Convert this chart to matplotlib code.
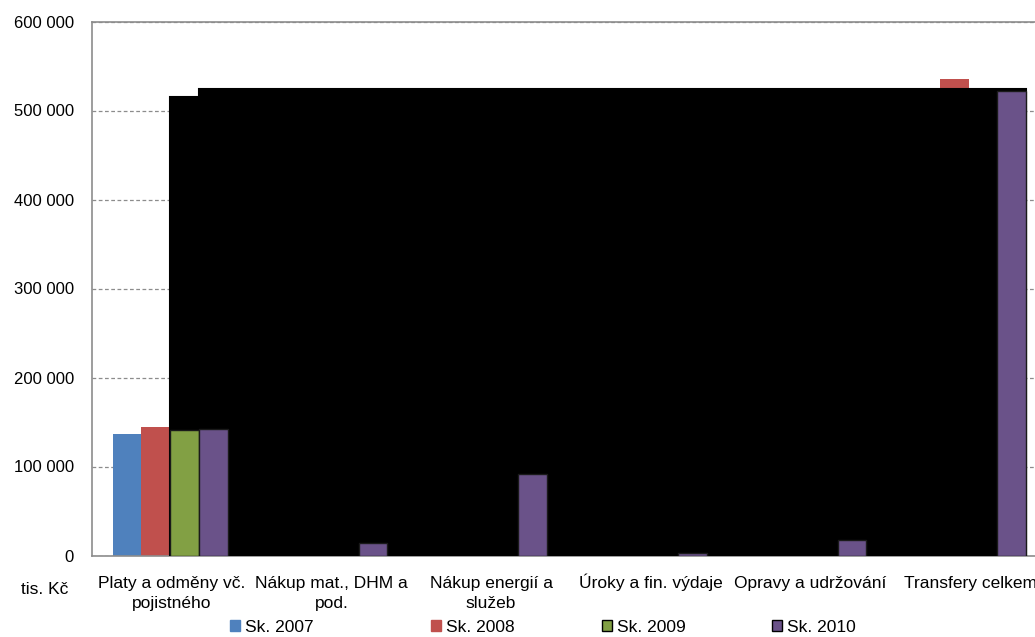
import numpy as np
import matplotlib
matplotlib.use("Agg")
import matplotlib.pyplot as plt
from matplotlib.patches import Polygon, Patch
from matplotlib.ticker import FuncFormatter

plt.rcParams['font.family'] = ['Liberation Sans', 'DejaVu Sans']

categories = [
    "Platy a odměny vč.\npojistného",
    "Nákup mat., DHM a\npod.",
    "Nákup energií a\nslužeb",
    "Úroky a fin. výdaje",
    "Opravy a udržování",
    "Transfery celkem",
]
series_names = ["Sk. 2007", "Sk. 2008", "Sk. 2009", "Sk. 2010"]
sk2007 = [137000, 15000, 88000, 3000, 20000, 470000]
sk2008 = [144400, 14500, 90000, 2800, 19000, 535600]
sk2009 = [141500, np.nan, np.nan, np.nan, np.nan, np.nan]
sk2010 = [142600, 13700, 92100, 2500, 17400, 521800]
shade_levels = [515000, 524000]
y_ticks = [0, 100000, 200000, 300000, 400000, 500000, 600000]

colors = ["#4F81BD", "#C0504D", "#82A044", "#6A5289"]
edges = ["none", "none", "#1a1a1a", "#1a1a1a"]
layers = [2, 2, 4, 4]

fig = plt.figure(figsize=(10.35, 6.37), dpi=100)
ax = fig.add_axes([92 / 1035, 1 - 555.5 / 637, 958 / 1035, 534 / 637])

x = np.arange(len(categories))
w = 0.18
shift = -0.01
offsets = np.array([-1.5, -0.5, 0.5, 1.5]) * w + shift
containers = []
for vals, off, c, ec, z, name in zip([sk2007, sk2008, sk2009, sk2010], offsets,
                                     colors, edges, layers, series_names):
    bc = ax.bar(x + off, vals, width=w, color=c, edgecolor=ec,
                linewidth=1.0 if ec != "none" else 0, zorder=z, label=name)
    containers.append(bc)

# dark block spanning the plot behind the later series
x_left = containers[2].patches[0].get_x()
x_step = containers[3].patches[0].get_x()
x_right = containers[3].patches[-1].get_x() + w
verts = [(x_left, 0), (x_left, shade_levels[0]), (x_step, shade_levels[0]),
         (x_step, shade_levels[1]), (x_right, shade_levels[1]), (x_right, 0)]
ax.add_patch(Polygon(verts, closed=True, facecolor="black", edgecolor="black",
                     linewidth=1.5, zorder=3))

ax.set_xlim(-0.5, len(categories) - 0.5)
ax.set_ylim(0, 600000)
ax.set_yticks(y_ticks)
ax.yaxis.set_major_formatter(FuncFormatter(lambda v, p: f"{int(v):,}".replace(",", " ")))
ax.set_xticks(x)
ax.set_xticklabels([])
ax.tick_params(axis="both", length=0, labelsize=12, colors="black")
ax.tick_params(axis="y", pad=13)

# category labels: first baseline sits at a fixed distance under the axis
first_baseline_pt = 23.4
line_step_pt = 14.4
for xi, label in zip(x, categories):
    n_lines = label.count("\n") + 1
    ax.annotate(label, xy=(xi, 0), xycoords=("data", "axes fraction"),
                xytext=(0, -(first_baseline_pt + line_step_pt * (n_lines - 1))),
                textcoords="offset points", ha="center", va="baseline",
                multialignment="center", fontsize=12.5, linespacing=1.45,
                annotation_clip=False)

ax.set_axisbelow(True)
ax.yaxis.grid(True, linestyle=(0, (3, 2)), color="#8c8c8c", linewidth=0.9)
for s in ["left", "top", "bottom"]:
    ax.spines[s].set_color("#8c8c8c")
    ax.spines[s].set_linewidth(1.2)
ax.spines["right"].set_visible(False)

fig.text(45 / 1035, 1 - 590 / 637, "tis. Kč", fontsize=12.5, ha="center", va="center")

legend_x = [230, 431, 602, 772]
for i, lx in enumerate(legend_x):
    h = Patch(facecolor=colors[i], edgecolor="black" if edges[i] != "none" else colors[i],
              linewidth=1.0)
    leg = fig.legend([h], [series_names[i]], loc="center left",
                     bbox_to_anchor=(lx / 1035, 1 - 627 / 637), frameon=False,
                     fontsize=12.5, handlelength=0.6, handleheight=0.6,
                     handletextpad=0.25, borderpad=0, borderaxespad=0)

fig.savefig("out.png", dpi=100)
